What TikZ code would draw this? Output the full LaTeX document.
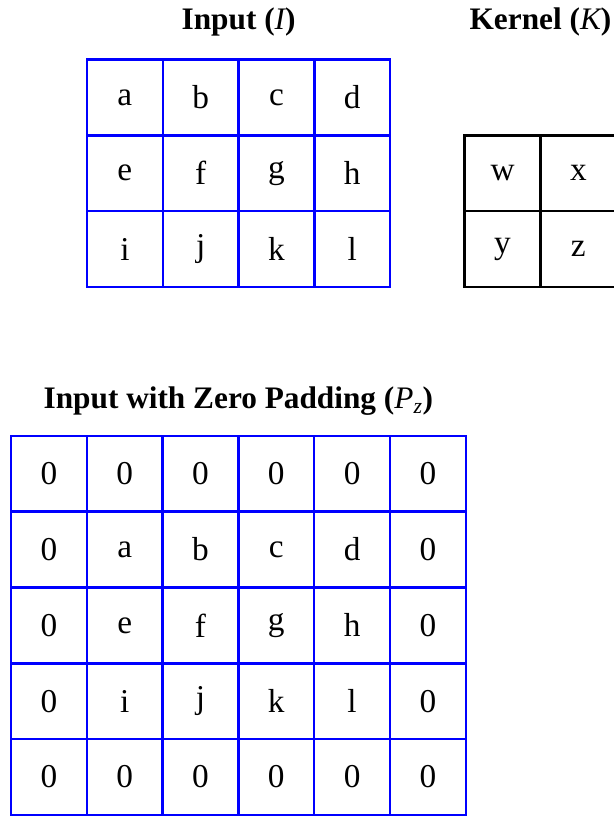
\documentclass[tikz,border=0pt]{standalone}
\usepackage{fontspec}
\setmainfont{Liberation Serif}
\usetikzlibrary{positioning}
\definecolor{gridblue}{HTML}{0000FF}

\tikzset{
  cellbox/.style={draw=gridblue, line width=1.9pt, minimum size=2cm, inner sep=0pt,
                  font=\fontsize{25}{30}\selectfont},
  kernbox/.style={cellbox, draw=black},
  gridtitle/.style={font=\bfseries\fontsize{23.5}{28}\selectfont, anchor=base}
}

\begin{document}
\begin{tikzpicture}
  \useasboundingbox (0,0) rectangle (16.2,21.53);

  % input grid
  \foreach \row [count=\r from 0] in {{a,b,c,d},{e,f,g,h},{i,j,k,l}}{
    \foreach \v [count=\c from 0] in \row{
      \node[cellbox] (in-\r-\c) at (3.295+2*\c, 18.96-2*\r) {\v};
    }
  }
  \node[gridtitle] (intitle) at (6.295, 20.74) {Input ({\mdseries\itshape I})};

  % kernel
  \foreach \row [count=\r from 0] in {{w,x},{y,z}}{
    \foreach \v [count=\c from 0] in \row{
      \node[kernbox] (ker-\r-\c) at (13.26+2*\c, 16.96-2*\r) {\v};
    }
  }
  \node[gridtitle] (kertitle) at (14.26, 20.74) {Kernel ({\mdseries\itshape K})};

  % padded input
  \foreach \row [count=\r from 0] in {{0,0,0,0,0,0},{0,a,b,c,d,0},{0,e,f,g,h,0},
                                      {0,i,j,k,l,0},{0,0,0,0,0,0}}{
    \foreach \v [count=\c from 0] in \row{
      \node[cellbox] (pad-\r-\c) at (1.29+2*\c, 9.03-2*\r) {\v};
    }
  }
  \node[gridtitle] (padtitle) at (6.29, 10.76)
    {Input with Zero Padding ({\mdseries\itshape P\textsubscript{z}})};
\end{tikzpicture}
\end{document}
